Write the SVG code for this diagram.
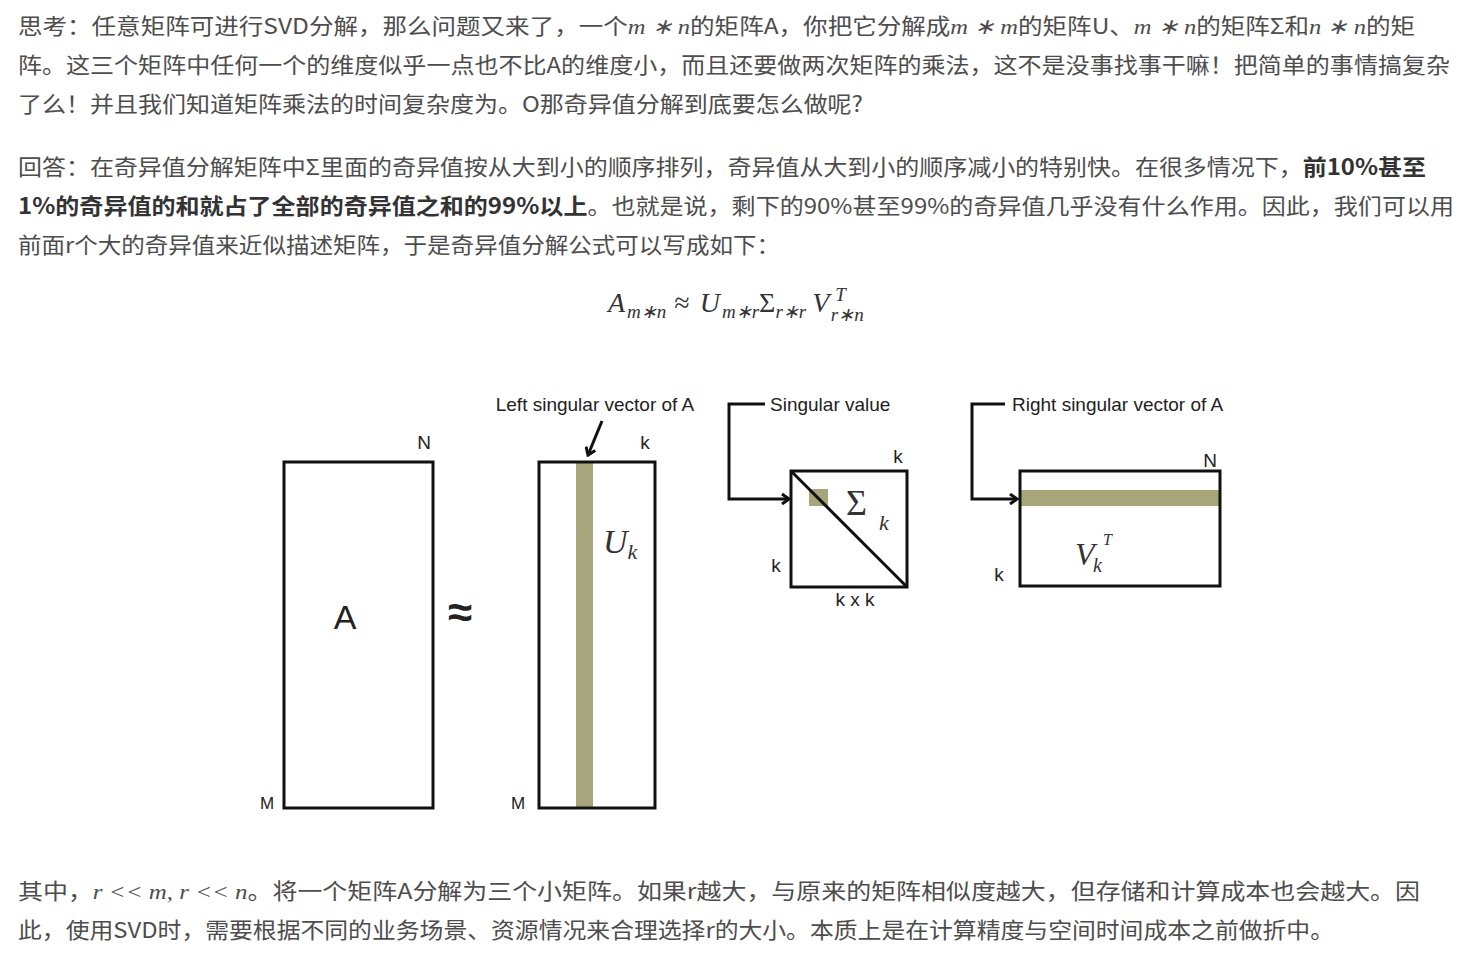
<svg xmlns="http://www.w3.org/2000/svg" width="1466" height="965" viewBox="0 0 1466 965">
<style>
.t{font-family:"Noto Sans CJK SC","Liberation Sans",sans-serif;font-size:22px;fill:#4d4d4d}
.m{font-family:"Liberation Serif",serif;font-style:italic}
.d{font-family:"Liberation Sans",Arial,sans-serif;font-size:19px;fill:#222}
.box{fill:none;stroke:#111;stroke-width:3}
.band{fill:#a6a67a}
.ln{fill:none;stroke:#111;stroke-width:3}
</style>
<defs><marker id="ah" markerWidth="10" markerHeight="12" refX="8" refY="6" orient="auto" markerUnits="userSpaceOnUse"><path d="M1,1 L8,6 L1,11" fill="none" stroke="#111" stroke-width="3"/></marker></defs>
<rect width="1466" height="965" fill="#fff"/>
<g id="text-top">
<text class="t" x="18" y="34" textLength="1397" lengthAdjust="spacingAndGlyphs">思考：任意矩阵可进行SVD分解，那么问题又来了，一个<tspan class="m">m ∗ n</tspan>的矩阵A，你把它分解成<tspan class="m">m ∗ m</tspan>的矩阵U、<tspan class="m">m ∗ n</tspan>的矩阵Σ和<tspan class="m">n ∗ n</tspan>的矩</text>
<text class="t" x="18" y="73" textLength="1432" lengthAdjust="spacingAndGlyphs">阵。这三个矩阵中任何一个的维度似乎一点也不比A的维度小，而且还要做两次矩阵的乘法，这不是没事找事干嘛！把简单的事情搞复杂</text>
<text class="t" x="18" y="112" textLength="845" lengthAdjust="spacingAndGlyphs">了么！并且我们知道矩阵乘法的时间复杂度为。O那奇异值分解到底要怎么做呢?</text>
<text class="t" x="18" y="175" textLength="1408" lengthAdjust="spacingAndGlyphs">回答：在奇异值分解矩阵中Σ里面的奇异值按从大到小的顺序排列，奇异值从大到小的顺序减小的特别快。在很多情况下，<tspan font-weight="bold" fill="#333">前10%甚至</tspan></text>
<text class="t" x="18" y="214" textLength="1436" lengthAdjust="spacingAndGlyphs"><tspan font-weight="bold" fill="#333">1%的奇异值的和就占了全部的奇异值之和的99%以上</tspan>。也就是说，剩下的90%甚至99%的奇异值几乎没有什么作用。因此，我们可以用</text>
<text class="t" x="18" y="253" textLength="762" lengthAdjust="spacingAndGlyphs">前面r个大的奇异值来近似描述矩阵，于是奇异值分解公式可以写成如下：</text>
<text x="608" y="312" font-family="Liberation Serif,serif" font-size="28" fill="#333"><tspan font-style="italic">A</tspan><tspan font-style="italic" font-size="19" dx="2" dy="6">m∗n</tspan><tspan dx="8" dy="-6">≈</tspan><tspan font-style="italic" dx="10">U</tspan><tspan font-style="italic" font-size="19" dx="2" dy="6">m∗r</tspan><tspan dy="-6">Σ</tspan><tspan font-style="italic" font-size="19" dy="6">r∗r</tspan><tspan font-style="italic" dx="6" dy="-6">V</tspan><tspan font-style="italic" font-size="19" dx="6" dy="-11">T</tspan><tspan font-style="italic" font-size="19" dx="-14" dy="20">r∗n</tspan></text>
</g>
<g id="matrix-A"><rect class="box" x="284" y="462" width="149" height="346"/>
<text class="d" x="424" y="449" text-anchor="middle">N</text><text class="d" x="267" y="809" text-anchor="middle" style="font-size:17px">M</text>
<text class="d" x="345" y="629" text-anchor="middle" style="font-size:34px">A</text></g>
<g id="approx"><text x="460" y="627" text-anchor="middle" font-family="Liberation Sans,sans-serif" font-size="44" font-weight="bold" fill="#222">≈</text></g>
<g id="matrix-U"><rect class="band" x="576" y="462" width="17" height="346"/><rect class="box" x="539" y="462" width="116" height="346"/>
<text class="d" x="645" y="449" text-anchor="middle">k</text><text class="d" x="518" y="809" text-anchor="middle" style="font-size:17px">M</text>
<text x="603" y="553" font-family="Liberation Serif,serif" font-style="italic" font-size="34" fill="#333">U<tspan font-size="22" dy="6">k</tspan></text>
<text class="d" x="595" y="411" text-anchor="middle">Left singular vector of A</text></g>
<g id="matrix-Sigma"><rect class="band" x="809" y="489" width="19" height="17"/><rect class="box" x="791" y="471" width="116" height="116"/>
<line class="ln" x1="791" y1="471" x2="907" y2="587"/>
<text x="846" y="515" font-family="Liberation Serif,serif" font-size="36" fill="#333">Σ</text><text x="879" y="530" font-family="Liberation Serif,serif" font-style="italic" font-size="22" fill="#333">k</text>
<text class="d" x="898" y="463" text-anchor="middle">k</text><text class="d" x="776" y="572" text-anchor="middle">k</text><text class="d" x="855" y="606" text-anchor="middle">k x k</text>
<text class="d" x="770" y="411">Singular value</text></g>
<g id="matrix-V"><rect class="band" x="1020" y="490" width="200" height="16"/><rect class="box" x="1020" y="471" width="200" height="115"/>
<text x="1075" y="565" font-family="Liberation Serif,serif" font-style="italic" font-size="32" fill="#333">V</text><text x="1093" y="572" font-family="Liberation Serif,serif" font-style="italic" font-size="20" fill="#333">k</text><text x="1103" y="545" font-family="Liberation Serif,serif" font-style="italic" font-size="16" fill="#333">T</text>
<text class="d" x="1210" y="467" text-anchor="middle">N</text><text class="d" x="999" y="581" text-anchor="middle">k</text>
<text class="d" x="1012" y="411">Right singular vector of A</text></g>
<g id="connectors">
<path class="ln" d="M602,421 L588,455" marker-end="url(#ah)"/>
<path class="ln" d="M765,404 H729 V499 H789" marker-end="url(#ah)"/>
<path class="ln" d="M1005,404 H972 V499 H1017" marker-end="url(#ah)"/>
</g>
<g id="text-bottom">
<text class="t" x="18" y="899" textLength="1402" lengthAdjust="spacingAndGlyphs">其中，<tspan class="m">r &lt;&lt; m, r &lt;&lt; n</tspan>。将一个矩阵A分解为三个小矩阵。如果r越大，与原来的矩阵相似度越大，但存储和计算成本也会越大。因</text>
<text class="t" x="18" y="938" textLength="1316" lengthAdjust="spacingAndGlyphs">此，使用SVD时，需要根据不同的业务场景、资源情况来合理选择r的大小。本质上是在计算精度与空间时间成本之前做折中。</text>
</g>
</svg>
